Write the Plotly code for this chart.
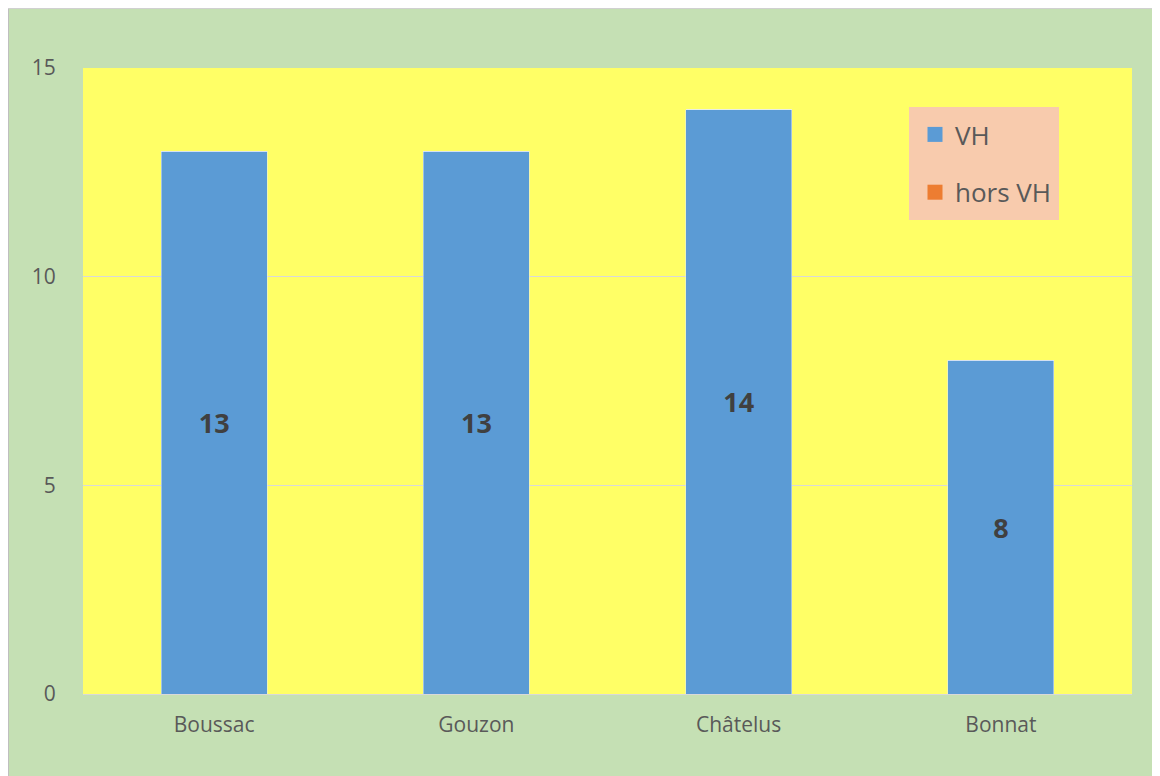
import plotly.graph_objects as go

categories = ["Boussac", "Gouzon", "Châtelus", "Bonnat"]
vh = [13, 13, 14, 8]
hors_vh = [0, 0, 0, 0]
y_ticks = [0, 5, 10, 15]

FONT = "Open Sans"
BLUE = "#5B9BD5"
ORANGE = "#ED7D31"

fig = go.Figure()
fig.add_trace(go.Bar(
    x=categories, y=vh, name="VH", marker_color=BLUE,
    text=[str(v) for v in vh], textposition="inside", insidetextanchor="middle",
    textfont=dict(family=FONT, size=27, color="#404040", weight="bold"),
    showlegend=False, hoverinfo="skip",
))
fig.add_trace(go.Bar(
    x=categories, y=hors_vh, name="hors VH", marker_color=ORANGE,
    showlegend=False, hoverinfo="skip",
))
# legend entries
fig.add_trace(go.Scatter(
    x=[categories[0]], y=[None], mode="markers", name="VH",
    marker=dict(symbol="square", size=15, color=BLUE),
    legendgroup="a", hoverinfo="skip",
))
fig.add_trace(go.Scatter(
    x=[categories[0]], y=[None], mode="markers", name="hors VH",
    marker=dict(symbol="square", size=15, color=ORANGE),
    legendgroup="b", hoverinfo="skip",
))

fig.update_layout(
    width=1152, height=768,
    barmode="stack", bargap=0.595,
    paper_bgcolor="#C5E0B4", plot_bgcolor="#FFFF66",
    margin=dict(l=75, r=28, t=60, b=82, autoexpand=False),
    font=dict(family=FONT, color="#595959"),
    showlegend=True,
    legend=dict(
        x=(915 - 83) / 1049, y=(694 - 111) / 626, xanchor="left", yanchor="top",
        bgcolor="rgba(0,0,0,0)", font=dict(size=26, color="#595959", family=FONT),
        traceorder="grouped", tracegroupgap=21,
        itemwidth=30,
    ),
    xaxis=dict(
        showgrid=False, showline=True, linecolor="#D9D9D9", linewidth=1,
        ticks="outside", ticklen=12, tickcolor="rgba(0,0,0,0)",
        tickfont=dict(size=21, color="#595959"),
    ),
    yaxis=dict(
        range=[0, 15], tickvals=y_ticks, showgrid=True, gridcolor="#D9D9D9",
        zeroline=False, showline=False,
        ticks="outside", ticklen=22, tickcolor="rgba(0,0,0,0)",
        tickfont=dict(size=21, color="#595959"),
    ),
    shapes=[
        dict(type="rect", xref="paper", yref="paper",
             x0=(909 - 83) / 1049, x1=(1059 - 83) / 1049,
             y0=(694 - 220) / 626, y1=(694 - 107) / 626,
             fillcolor="#F8CBAD", line_width=0, layer="above"),
        dict(type="line", xref="paper", yref="paper",
             x0=-75/1049, x1=-75/1049, y0=-82/626, y1=(626 + 60)/626,
             line=dict(color="#BFBFBF", width=2)),
        dict(type="line", xref="paper", yref="paper",
             x0=-75/1049, x1=(1049 + 28)/1049, y0=(626 + 60)/626, y1=(626 + 60)/626,
             line=dict(color="#D0D0D0", width=2)),
    ],
)

fig.write_html("out.html")
